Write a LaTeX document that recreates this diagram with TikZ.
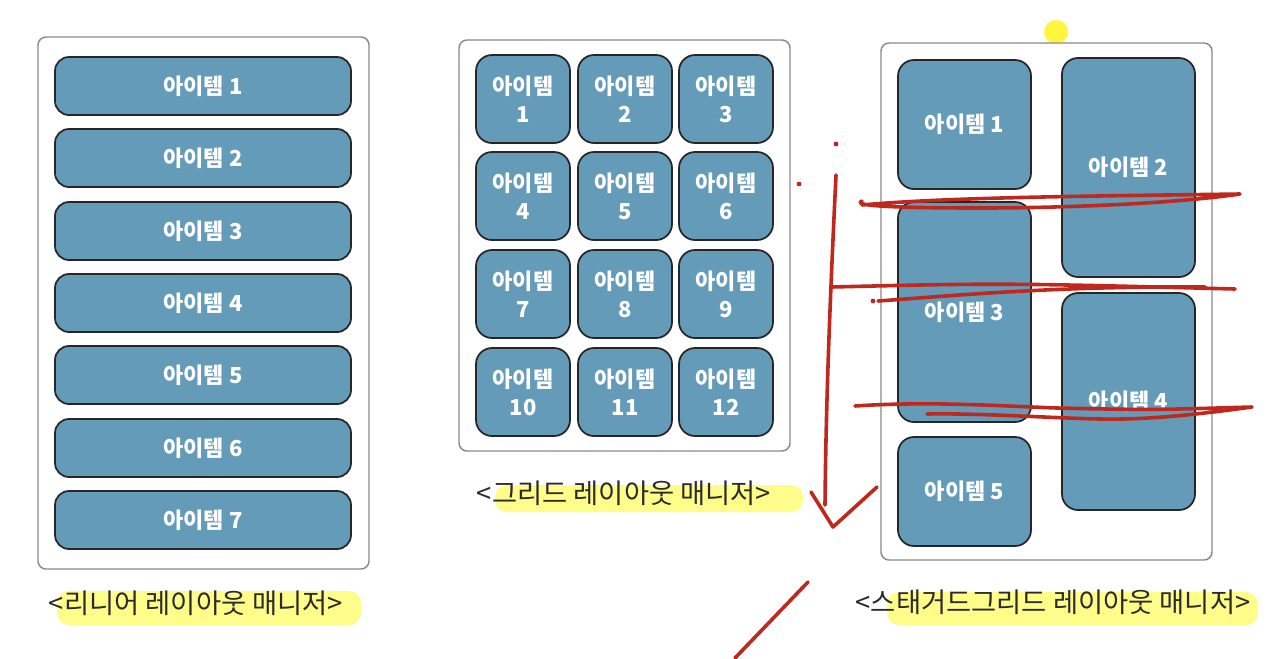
\documentclass[tikz,border=0pt]{standalone}
\usepackage{fontspec}
\newfontfamily\kr{Noto Sans CJK KR}
\definecolor{itemblue}{HTML}{639BB8}
\definecolor{boxgray}{HTML}{8A8A8A}
\definecolor{labeltxt}{HTML}{2B2B2B}
\definecolor{hl}{HTML}{FFFD8A}
\definecolor{pen}{HTML}{C0281E}
\tikzset{
  itembox/.style={draw=black!85, line width=1.3pt, fill=itemblue, text=white,
    font=\kr\bfseries\fontsize{16.5}{21}\selectfont, align=center, inner sep=0pt},
  litem/.style={itembox, rounded corners=10.5pt, minimum width=296*0.75pt, minimum height=58*0.75pt},
  gitem/.style={itembox, rounded corners=12pt, minimum width=94*0.75pt, minimum height=88*0.75pt},
  sitem/.style={itembox, rounded corners=12pt, minimum width=133*0.75pt},
  container/.style={draw=boxgray, line width=1.1pt, fill=white, rounded corners=6pt},
  caption/.style={text=labeltxt, font=\kr\fontsize{20.5}{24}\selectfont, inner sep=0pt},
  highlight/.style={fill=hl, rounded corners=9pt, draw=none},
  penline/.style={draw=pen, line width=2.7pt, line cap=round, line join=round}
}
\begin{document}
\begin{tikzpicture}[x=0.75pt,y=-0.75pt]
\useasboundingbox (0,0) rectangle (1278,658);
\fill[white] (0,0) rectangle (1278,658);

% ---------- linear layout ----------
\draw[container] (38,37) rectangle (369,569);
\foreach \i/\y in {1/86,2/158,3/231,4/303,5/375,6/448,7/520}{
  \node[litem] (l\i) at (203,\y) {아이템 \i};
}
\fill[highlight] (57,591) rectangle (361,625);
\node[caption] (lcap) at (196,603) {<리니어 레이아웃 매니저>};

% ---------- grid layout ----------
\draw[container] (459,40) rectangle (790,451);
\foreach \r/\y in {0/99,1/196,2/294,3/392}{
  \foreach \c/\x in {1/523,2/625,3/726}{
    \pgfmathtruncatemacro{\n}{\r*3+\c}
    \node[gitem] (g\n) at (\x,\y) {아이템\\\n};
  }
}
\fill[highlight] (495,485) rectangle (803,512);
\node[caption] (gcap) at (624,493) {<그리드 레이아웃 매니저>};

% ---------- staggered grid layout ----------
\fill[yellow!55!hl] (1056,32) circle (12);
\draw[container] (881,43) rectangle (1212,560);
\node[sitem, minimum height=129*0.75pt] (s1) at (964.5,124.5) {아이템 1};
\node[sitem, minimum height=220*0.75pt] (s3) at (964.5,312) {아이템 3};
\node[sitem, minimum height=109*0.75pt] (s5) at (964.5,491.5) {아이템 5};
\node[sitem, minimum height=219*0.75pt] (s2) at (1128.5,167.5) {아이템 2};
\node[sitem, minimum height=217*0.75pt] (s4) at (1128.5,401.5) {아이템 4};
\fill[highlight] (887,592) rectangle (1258,625);
\node[caption] (scap) at (1053,602) {<스태거드그리드 레이아웃 매니저>};

% ---------- red pen marks ----------
\fill[pen] (836,144) circle (2.4);
\fill[pen] (799,184) circle (2.4);
\fill[pen] (873,301) circle (2.4);
\draw[penline] (836,175) .. controls (830,300) and (826,400) .. (825,505);
\draw[penline] (811,492) -- (833,527) -- (877,487);
\draw[penline] (808,582) -- (735,658);
\draw[penline] (862,205) .. controls (950,197) and (1100,196) .. (1240,194)
  .. controls (1170,204) and (1060,208) .. (980,208)
  .. controls (900,208) and (850,206) .. (862,201);
\draw[penline] (831,287) .. controls (1000,283) .. (1235,289);
\draw[penline] (878,301) .. controls (950,296) and (1050,286) .. (1205,287);
\draw[penline] (855,406) .. controls (930,401) and (1000,406) .. (1057,408)
  .. controls (1150,410) .. (1252,407)
  .. controls (1200,414) and (1150,420) .. (1100,419)
  .. controls (1050,418) and (980,413) .. (927,414);
\end{tikzpicture}
\end{document}
